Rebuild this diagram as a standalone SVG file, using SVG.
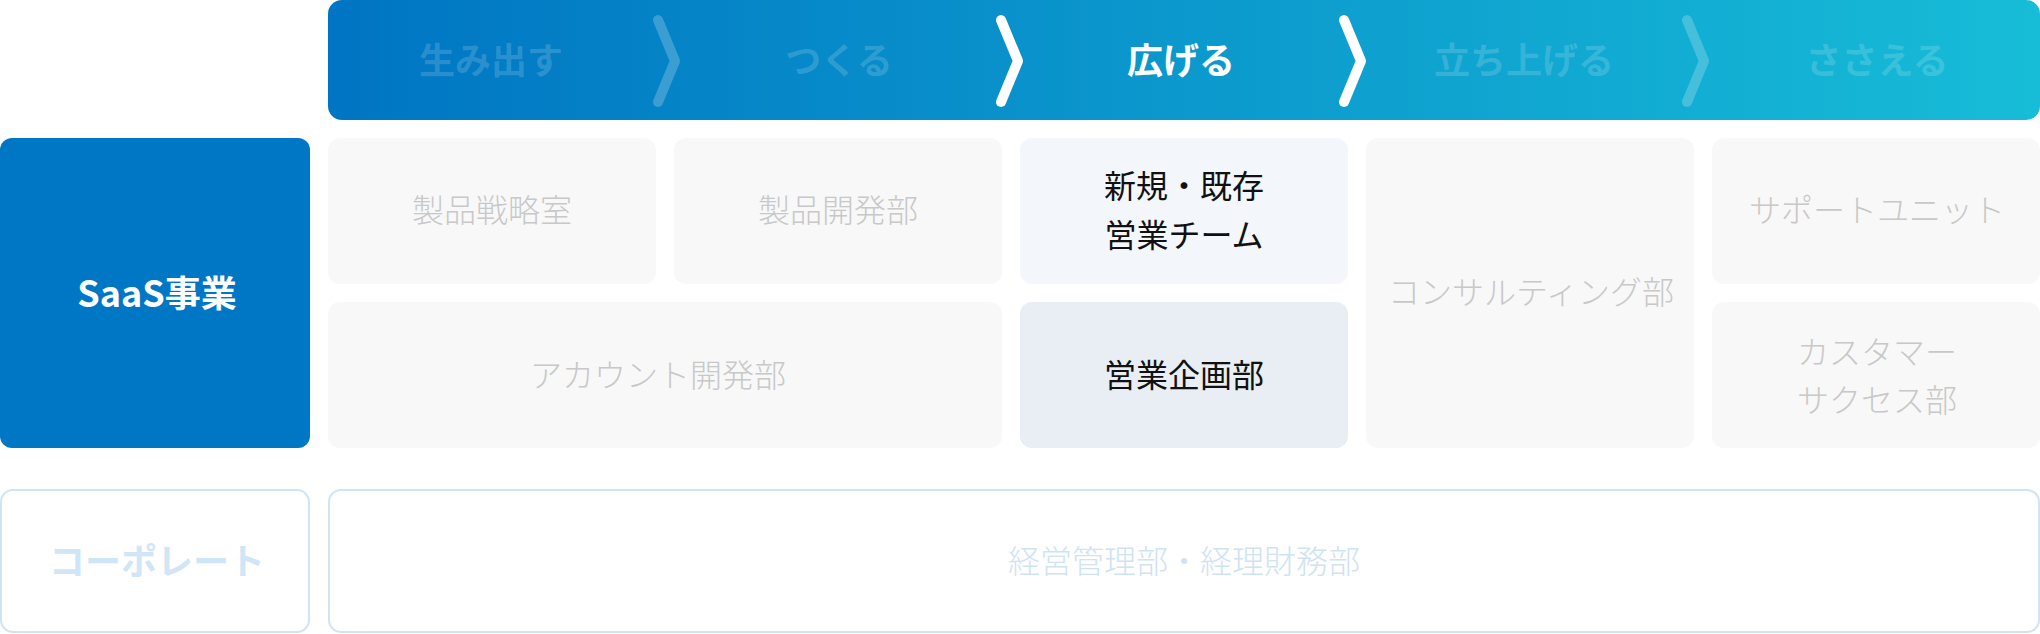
<svg xmlns="http://www.w3.org/2000/svg" width="2040" height="634" viewBox="0 0 2040 634">
  <defs>
    <linearGradient id="bannerGrad" x1="0" y1="0" x2="1" y2="0">
      <stop offset="0" stop-color="#0075c3"/>
      <stop offset="1" stop-color="#17bcd7"/>
    </linearGradient>
    <style>
      text { font-family: "Noto Sans CJK JP", "Noto Sans", sans-serif; text-anchor: middle; dominant-baseline: central; }
      .stage { font-size: 36px; font-weight: 700; fill: #ffffff; fill-opacity: 0.17; }
      .stage.active { fill-opacity: 1; }
      .chev { fill: none; stroke: #ffffff; stroke-width: 10; stroke-linecap: round; stroke-linejoin: round; stroke-opacity: 0.22; }
      .chev.active { stroke-opacity: 1; }
      .cell { fill: #f8f8f8; }
      .cell-text { font-size: 32px; font-weight: 300; fill: #c8c8c8; }
      .hl1 { fill: #f3f6fb; }
      .hl2 { fill: #e8eef3; }
      .dark-text { font-size: 32px; font-weight: 400; fill: #111111; }
      .corp-box { fill: #ffffff; stroke: #cfe4f4; stroke-width: 2; }
      .corp-label { font-size: 36px; font-weight: 700; fill: #d0e6f6; }
      .corp-text { font-size: 32px; font-weight: 300; fill: #cfe3f4; }
    </style>
  </defs>

  <g id="banner">
    <rect x="328" y="0" width="1712" height="120" rx="14" fill="url(#bannerGrad)"/>
    <text class="stage" x="491" y="58">生み出す</text>
    <text class="stage" x="839" y="58">つくる</text>
    <text class="stage active" x="1181" y="58">広げる</text>
    <text class="stage" x="1524" y="58">立ち上げる</text>
    <text class="stage" x="1877" y="58">ささえる</text>
  </g>

  <g id="connectors">
    <path class="chev" d="M658,20 L675,61 L658,102"/>
    <path class="chev active" d="M1001,20 L1018,61 L1001,102"/>
    <path class="chev active" d="M1344,20 L1361,61 L1344,102"/>
    <path class="chev" d="M1687,20 L1704,61 L1687,102"/>
  </g>

  <g id="saas">
    <rect x="0" y="138" width="310" height="310" rx="12" fill="#0077c5"/>
    <text x="157" y="291" font-size="36" font-weight="700" fill="#ffffff">SaaS事業</text>
  </g>

  <g id="product-strategy">
    <rect class="cell" x="328" y="138" width="328" height="146" rx="12"/>
    <text class="cell-text" x="492" y="208">製品戦略室</text>
  </g>

  <g id="product-dev">
    <rect class="cell" x="674" y="138" width="328" height="146" rx="12"/>
    <text class="cell-text" x="838" y="208">製品開発部</text>
  </g>

  <g id="sales-team">
    <rect class="hl1" x="1020" y="138" width="328" height="146" rx="12"/>
    <text class="dark-text" x="1184" y="184">新規・既存</text>
    <text class="dark-text" x="1184" y="233">営業チーム</text>
  </g>

  <g id="consulting">
    <rect class="cell" x="1366" y="138" width="328" height="310" rx="12"/>
    <text class="cell-text" x="1531" y="290">コンサルティング部</text>
  </g>

  <g id="support">
    <rect class="cell" x="1712" y="138" width="328" height="146" rx="12"/>
    <text class="cell-text" x="1877" y="208">サポートユニット</text>
  </g>

  <g id="account-dev">
    <rect class="cell" x="328" y="302" width="674" height="146" rx="12"/>
    <text class="cell-text" x="658" y="373">アカウント開発部</text>
  </g>

  <g id="sales-planning">
    <rect class="hl2" x="1020" y="302" width="328" height="146" rx="12"/>
    <text class="dark-text" x="1184" y="373">営業企画部</text>
  </g>

  <g id="customer-success">
    <rect class="cell" x="1712" y="302" width="328" height="146" rx="12"/>
    <text class="cell-text" x="1877" y="350">カスタマー</text>
    <text class="cell-text" x="1877" y="398">サクセス部</text>
  </g>

  <g id="corporate">
    <rect class="corp-box" x="1" y="490" width="308" height="142" rx="12"/>
    <text class="corp-label" x="157" y="559">コーポレート</text>
  </g>

  <g id="corporate-depts">
    <rect class="corp-box" x="329" y="490" width="1710" height="142" rx="12"/>
    <text class="corp-text" x="1184" y="559">経営管理部・経理財務部</text>
  </g>
</svg>
